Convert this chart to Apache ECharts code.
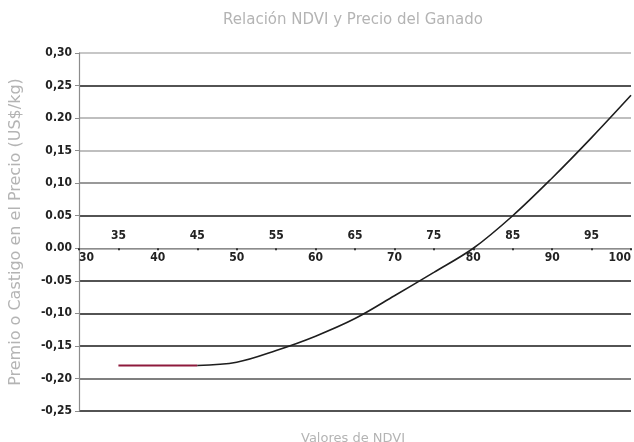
<!DOCTYPE html>
<html>
<head>
<meta charset="utf-8">
<script src="https://cdn.jsdelivr.net/npm/echarts@6/dist/echarts.min.js"></script>
<style>
  html, body { margin: 0; padding: 0; background: #fff; }
  #chart { width: 634px; height: 442px; }
</style>
</head>
<body>
<div id="chart"></div>
<script>
// NDVI values and the price premium / penalty (US$/kg)
const flatNdvi = [35, 40, 45];
const flatPremio = [-0.18, -0.18, -0.18];
const curveNdvi = [45, 50, 55, 60, 65, 70, 75, 80, 85, 90, 95, 100];
const curvePremio = [-0.18, -0.175, -0.157, -0.135, -0.108, -0.073, -0.037, 0.0, 0.05, 0.108, 0.17, 0.235];

// Tick labels
const xLabelsBottom = ['30', '40', '50', '60', '70', '80', '90', '100'];
const xLabelsTop = ['35', '45', '55', '65', '75', '85', '95'];
const yLabels = ['-0,25', '-0,20', '-0,15', '-0,10', '-0.05', '0.00', '0.05', '0,10', '0,15', '0.20', '0,25', '0,30'];

const labelFont = '"Liberation Sans Narrow", "Arial Narrow", "DejaVu Sans Condensed", sans-serif';
const titleColor = '#b4b4b4';

const Y_MIN = -0.25, Y_MAX = 0.30;
const GRID = { left: 77, right: 1, top: 53, bottom: 31 };
const chartHeight = 442;
// the NDVI axis sits on the zero line: lift it from the bottom edge of the plot
const plotHeight = chartHeight - GRID.top - GRID.bottom;
const zeroLift = -plotHeight * (0 - Y_MIN) / (Y_MAX - Y_MIN);

const chart = echarts.init(document.getElementById('chart'), null, { renderer: 'canvas' });

chart.setOption({
  backgroundColor: '#ffffff',
  animation: false,
  title: [
    {
      text: 'Relación NDVI y Precio del Ganado',
      left: 348, top: 8, textAlign: 'center',
      textStyle: { color: titleColor, fontSize: 15, fontWeight: 'normal', fontFamily: 'DejaVu Sans, sans-serif' }
    },
    {
      text: 'Valores de NDVI',
      left: 348, top: 427, textAlign: 'center',
      textStyle: { color: titleColor, fontSize: 13, fontWeight: 'normal', fontFamily: 'DejaVu Sans, sans-serif' }
    }
  ],
  grid: Object.assign({ containLabel: false }, GRID),
  xAxis: [
    {
      type: 'value', min: 30, max: 100, interval: 5,
      offset: zeroLift,
      axisLine: { onZero: false, lineStyle: { color: '#8c8c8c', width: 1.2 } },
      axisTick: { show: true, length: 2, lineStyle: { color: '#333', width: 2 } },
      splitLine: { show: false },
      axisLabel: {
        color: '#222', fontSize: 12, fontWeight: 'bold', fontFamily: labelFont, margin: 4,
        alignMinLabel: 'left', alignMaxLabel: 'right', hideOverlap: false,
        formatter: v => (v % 10 === 0 ? xLabelsBottom[(v - 30) / 10] : '')
      }
    },
    {
      type: 'value', min: 30, max: 100, interval: 5, position: 'bottom',
      offset: zeroLift,
      axisLine: { show: false, onZero: false },
      axisTick: { show: false },
      splitLine: { show: false },
      axisLabel: {
        inside: true, color: '#222', fontSize: 12, fontWeight: 'bold', fontFamily: labelFont, margin: 6,
        showMinLabel: false, showMaxLabel: false,
        formatter: v => (v % 10 === 5 ? xLabelsTop[(v - 35) / 10] : '')
      }
    }
  ],
  yAxis: {
    type: 'value', min: Y_MIN, max: Y_MAX, interval: 0.05,
    name: 'Premio o Castigo en el Precio (US$/kg)',
    nameLocation: 'middle', nameGap: 55, nameRotate: 90,
    nameTextStyle: { color: titleColor, fontSize: 16, fontFamily: 'DejaVu Sans, sans-serif' },
    axisLine: { show: true, lineStyle: { color: '#8c8c8c', width: 1.2 } },
    axisTick: { show: true, length: 4, lineStyle: { color: '#8c8c8c' } },
    axisLabel: {
      color: '#222', fontSize: 12, fontWeight: 'bold', fontFamily: labelFont, margin: 7,
      formatter: v => yLabels[Math.round((v - Y_MIN) / 0.05)]
    },
    splitLine: {
      show: true,
      lineStyle: {
        width: 1.6,
        // from -0.25 upward
        color: ['#1a1a1a', '#555', '#1a1a1a', '#1a1a1a', '#1a1a1a', '#9a9a9a', '#1a1a1a', '#777', '#aaa', '#aaa', '#1a1a1a', '#b4b4b4']
      }
    }
  },
  series: [
    {
      type: 'line', xAxisIndex: 0,
      data: flatNdvi.map((x, i) => [x, flatPremio[i]]),
      showSymbol: false,
      lineStyle: { color: '#8e1a3c', width: 2 },
      z: 3
    },
    {
      type: 'line', xAxisIndex: 0,
      data: curveNdvi.map((x, i) => [x, curvePremio[i]]),
      smooth: 0.35, showSymbol: false,
      lineStyle: { color: '#1e1e1e', width: 1.6 },
      z: 3
    }
  ]
});
</script>
</body>
</html>
